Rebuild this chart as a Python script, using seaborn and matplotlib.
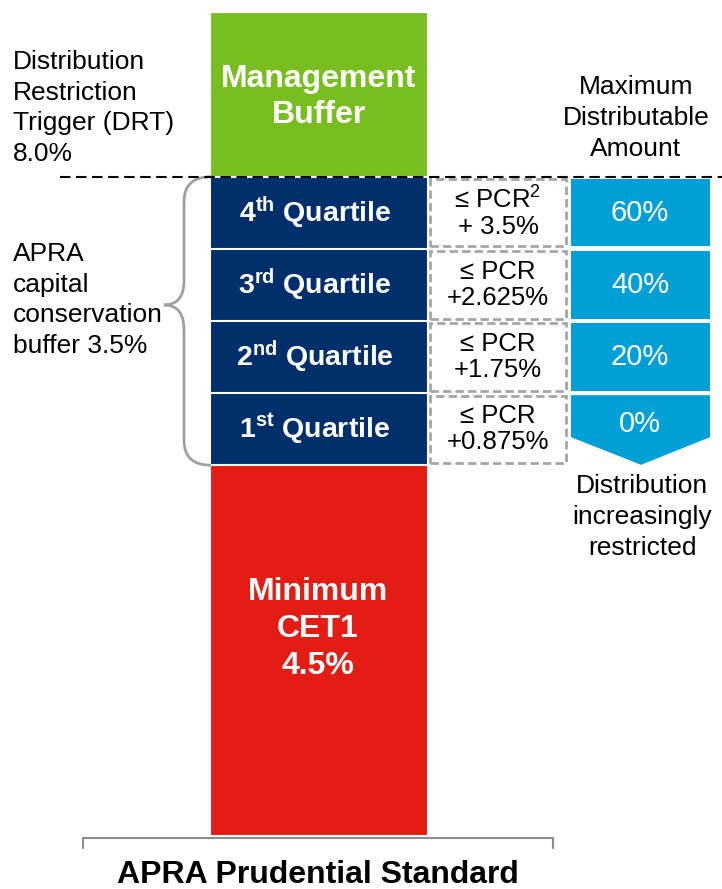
import numpy as np
import pandas as pd
import matplotlib.pyplot as plt
import seaborn as sns
from matplotlib.patches import Rectangle, Polygon, PathPatch
from matplotlib.path import Path

sns.set_theme(style="white")
plt.rcParams['font.family'] = ['Liberation Sans', 'DejaVu Sans']
plt.rcParams['mathtext.fontset'] = 'custom'
plt.rcParams['mathtext.rm'] = 'Liberation Sans'
plt.rcParams['mathtext.bf'] = 'Liberation Sans:bold'
plt.rcParams['mathtext.it'] = 'Liberation Sans:italic'

# capital stack, bottom to top (% of RWA)
category = "APRA Prudential Standard"
segments = ["Minimum CET1", "1st Quartile", "2nd Quartile", "3rd Quartile", "4th Quartile", "Management Buffer"]
seg_values = [4.5, 0.875, 0.875, 0.875, 0.875, 2.0]
seg_colors = ["#e31c14", "#002f6c", "#002f6c", "#002f6c", "#002f6c", "#78be20"]

quartile_labels = [r"1$^{\mathbf{st}}$ Quartile", r"2$^{\mathbf{nd}}$ Quartile",
                   r"3$^{\mathbf{rd}}$ Quartile", r"4$^{\mathbf{th}}$ Quartile"]
pcr_labels = ["≤ PCR\n+0.875%", "≤ PCR\n+1.75%", "≤ PCR\n+2.625%", "≤ PCR$^{\\mathrm{2}}$\n+ 3.5%"]
mda_labels = ["0%", "20%", "40%", "60%"]
drt = 8.0

W, H = 722, 889
cyan = "#00a0d6"
grey = "#a6a6a6"


def px(p):
    # figure pixel -> x data (bar centred at 0, width 1 = 218 px)
    return (p - 319) / 218


def py(p):
    # figure pixel (from top) -> y data
    return (836 - p) / 82.4


fig = plt.figure(figsize=(7.22, 8.89), dpi=100)
ax = fig.add_axes([0, 0, 1, 1])

tops = np.cumsum(seg_values)
bottoms = tops - np.array(seg_values)

# stacked bar: draw cumulative totals tallest first
for name, top, col in reversed(list(zip(segments, tops, seg_colors))):
    df = pd.DataFrame({"x": [category], "y": [top]})
    sns.barplot(data=df, x="x", y="y", color=col, saturation=1, width=1,
                edgecolor="white", linewidth=1.5, errorbar=None, ax=ax)

ax.set_xlim(px(0), px(W))
ax.set_ylim(py(H), py(0))
ax.axis("off")

# quartile rows
for i in range(4):
    b, t = bottoms[i + 1], tops[i + 1]
    mid = (b + t) / 2
    ax.text(px(315), mid, quartile_labels[i], color="white", fontsize=20.5,
            fontweight="bold", ha="center", va="center")
    ax.add_patch(Rectangle((px(430), b + 0.03), px(566) - px(430), t - b - 0.06,
                           facecolor="white", edgecolor=grey, lw=2,
                           ls=(0, (3, 1.5))))
    ax.text(px(498), mid, pcr_labels[i], fontsize=18.5, ha="center", va="center",
            linespacing=1.1, color="black")
    if i == 0:
        ax.add_patch(Polygon([(px(571), t - 0.025), (px(710), t - 0.025),
                              (px(710), b + 0.34), (px(641), b + 0.005),
                              (px(571), b + 0.34)], closed=True,
                             facecolor=cyan, edgecolor="none"))
        ax.text(px(640), mid + 0.06, mda_labels[i], color="white", fontsize=21,
                ha="center", va="center")
    else:
        ax.add_patch(Rectangle((px(571), b + 0.03), px(710) - px(571), t - b - 0.06,
                               facecolor=cyan, edgecolor="none"))
        ax.text(px(640), mid, mda_labels[i], color="white", fontsize=21,
                ha="center", va="center")

# brace for the conservation buffer
y_top, y_bot, y_tip = tops[4], bottoms[1], py(305)
r = 0.3
xb, xe, xt = px(184), px(211), px(164)
verts = [(xe, y_top), (xb, y_top), (xb, y_top - r), (xb, y_tip + r),
         (xb, y_tip), (xt, y_tip), (xb, y_tip), (xb, y_tip - r),
         (xb, y_bot + r), (xb, y_bot), (xe, y_bot)]
codes = [Path.MOVETO, Path.CURVE3, Path.CURVE3, Path.LINETO,
         Path.CURVE3, Path.CURVE3, Path.CURVE3, Path.CURVE3,
         Path.LINETO, Path.CURVE3, Path.CURVE3]
ax.add_patch(PathPatch(Path(verts, codes), facecolor="none", edgecolor="#a0a0a0", lw=2))

# DRT line
ax.plot([px(60), px(722)], [drt, drt], color="black", lw=1.5, ls=(0, (5, 2.7)))

# base axis
ax.plot([px(83), px(83), px(553), px(553)], [py(848), py(838), py(838), py(848)],
        color="#8c8c8c", lw=1.5)

# labels
ax.text(px(13), py(108), "Distribution\nRestriction\nTrigger (DRT)\n8.0%", fontsize=19,
        ha="left", va="center", linespacing=1.35, color="black")
ax.text(px(13), py(300), "APRA\ncapital\nconservation\nbuffer 3.5%", fontsize=19,
        ha="left", va="center", linespacing=1.35, color="black")
ax.text(px(319), py(97), "Management\nBuffer", fontsize=23, fontweight="bold",
        color="white", ha="center", va="center", linespacing=1.3)
ax.text(px(636), py(118), "Maximum\nDistributable\nAmount", fontsize=19,
        ha="center", va="center", linespacing=1.35, color="black")
ax.text(px(642), py(517), "Distribution\nincreasingly\nrestricted", fontsize=19,
        ha="center", va="center", linespacing=1.35, color="black")
ax.text(px(318), py(629), "Minimum\nCET1\n4.5%", fontsize=23, fontweight="bold",
        color="white", ha="center", va="center", linespacing=1.3)
ax.text(px(318), py(875), category, fontsize=23, fontweight="bold",
        color="black", ha="center", va="center")

fig.savefig("out.png", dpi=100)
